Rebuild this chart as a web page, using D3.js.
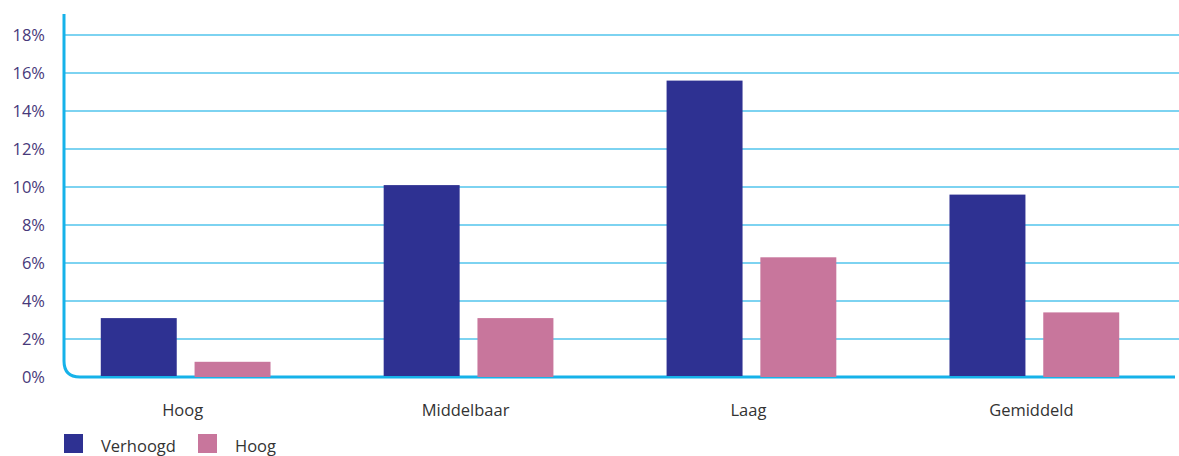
<!DOCTYPE html>
<html>
<head>
<meta charset="utf-8">
<script src="https://cdn.jsdelivr.net/npm/d3@7"></script>
<style>
  body { margin: 0; background: #fff; }
  svg { display: block; font-family: "Open Sans", sans-serif; }
</style>
</head>
<body>
<svg width="1179" height="456"></svg>
<script>
var categories = ["Hoog", "Middelbaar", "Laag", "Gemiddeld"];
var seriesNames = ["Verhoogd", "Hoog"];
var verhoogd = [3.1, 10.1, 15.6, 9.6];
var hoog = [0.8, 3.1, 6.3, 3.4];
var yTicks = [0, 2, 4, 6, 8, 10, 12, 14, 16, 18];
var colors = ["#2e3192", "#c8769c"];

var svg = d3.select("svg");
var left = 64, right = 1179, bottom = 377;

var yScale = d3.scaleLinear().domain([0, 18]).range([bottom, 35]);
var x0 = d3.scaleBand().domain(categories).range([left, 1156]).paddingInner(0.4).paddingOuter(0.13);
var x1 = d3.scaleBand().domain(seriesNames).range([0, x0.bandwidth()]).paddingInner(0.19);

// gridlines
svg.append("g").selectAll("line")
    .data(yTicks.filter(function(d) { return d > 0; }))
    .enter().append("line")
    .attr("x1", left + 1).attr("x2", right)
    .attr("y1", function(d) { return yScale(d); })
    .attr("y2", function(d) { return yScale(d); })
    .attr("stroke", "#52c4ec")
    .attr("stroke-width", 1.3);

// y tick labels
svg.append("g").selectAll("text")
    .data(yTicks)
    .enter().append("text")
    .attr("x", 45)
    .attr("y", function(d) { return yScale(d) + 6; })
    .attr("text-anchor", "end")
    .attr("fill", "#47397a")
    .style("font-size", "16.5px")
    .text(function(d) { return d + "%"; });

// axis with rounded corner
var r = 16;
svg.append("path")
    .attr("d", "M" + left + ",14 L" + left + "," + (bottom - r) +
        " Q" + left + "," + bottom + " " + (left + r) + "," + bottom +
        " L1175," + bottom)
    .attr("fill", "none")
    .attr("stroke", "#16b2e9")
    .attr("stroke-width", 3);

// bars
var rows = categories.map(function(c, i) {
    return { cat: c, vals: [verhoogd[i], hoog[i]] };
});

var groups = svg.append("g").selectAll("g")
    .data(rows)
    .enter().append("g")
    .attr("transform", function(d) { return "translate(" + x0(d.cat) + ",0)"; });

groups.selectAll("rect")
    .data(function(d) { return d.vals.map(function(v, j) { return { name: seriesNames[j], v: v, j: j }; }); })
    .enter().append("rect")
    .attr("x", function(d) { return x1(d.name); })
    .attr("width", x1.bandwidth())
    .attr("y", function(d) { return yScale(d.v); })
    .attr("height", function(d) { return bottom - yScale(d.v) - (d.j === 0 ? 1 : 0); })
    .attr("fill", function(d) { return colors[d.j]; });

// category labels
svg.append("g").selectAll("text")
    .data(categories)
    .enter().append("text")
    .attr("x", function(d) { return x0(d) + x0.bandwidth() / 2 - 3; })
    .attr("y", 416)
    .attr("text-anchor", "middle")
    .attr("fill", "#333")
    .style("font-size", "16.5px")
    .text(function(d) { return d; });

// legend
var legendX = [64, 198];
var legend = svg.append("g").selectAll("g")
    .data(seriesNames)
    .enter().append("g")
    .attr("transform", function(d, i) { return "translate(" + legendX[i] + ",434)"; });

legend.append("rect")
    .attr("width", 19).attr("height", 19)
    .attr("fill", function(d, i) { return colors[i]; });

legend.append("text")
    .attr("x", 37)
    .attr("y", 18)
    .attr("fill", "#333")
    .style("font-size", "16.5px")
    .text(function(d) { return d; });
</script>
</body>
</html>
